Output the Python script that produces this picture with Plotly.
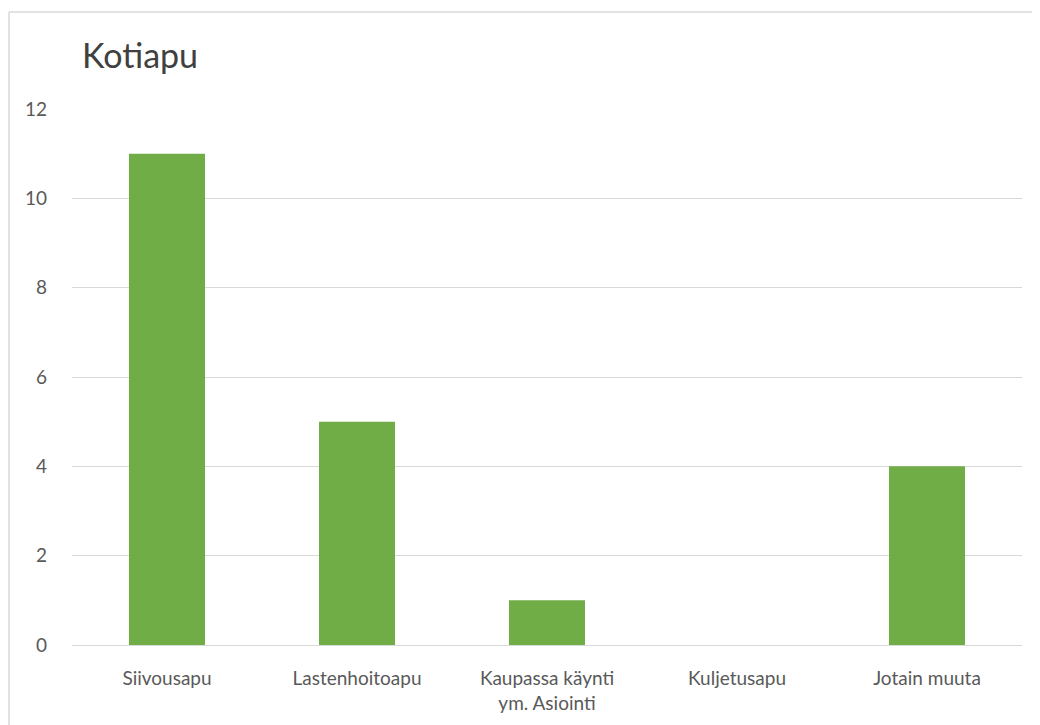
import plotly.graph_objects as go

categories = ["Siivousapu", "Lastenhoitoapu", "Kaupassa käynti<br>ym. Asiointi", "Kuljetusapu", "Jotain muuta"]
values = [11, 5, 1, 0, 4]
y_ticks = [0, 2, 4, 6, 8, 10, 12]
title_text = "Kotiapu"

# page body adds an 8px offset; compensate in margins and size
OFF = 8
W, H = 1040 - OFF, 725 - OFF
L, T = 72 - OFF, 109 - OFF
PW, PH = 950, 536

fig = go.Figure(go.Bar(x=categories, y=values, marker_color="#70AD47", marker_line_width=0))

bx0 = (9 - 72) / PW
by1 = (645 - 12) / PH
border = dict(color="#D9D9D9", width=1.5)

fig.update_layout(
    width=W, height=H,
    margin=dict(l=L, r=W - L - PW, t=T, b=H - T - PH),
    paper_bgcolor="white", plot_bgcolor="white",
    bargap=0.6,
    showlegend=False,
    font=dict(family="Lato", color="#595959", size=19),
    title=dict(text=title_text, x=(82 - OFF) / W, xanchor="left", xref="container",
               y=1 - (56 - OFF) / H, yanchor="middle", yref="container",
               font=dict(family="Lato", size=34, color="#404040")),
    xaxis=dict(showgrid=False, showline=False, ticks="", ticklabelstandoff=20,
               tickfont=dict(size=19)),
    yaxis=dict(range=[0, 12], tickvals=y_ticks, showgrid=True, gridcolor="#D9D9D9",
               gridwidth=1.3, zeroline=True, zerolinecolor="#D9D9D9", zerolinewidth=1.3,
               showline=False, ticks="", ticklabelstandoff=24, tickfont=dict(size=19)),
    shapes=[
        dict(type="line", xref="paper", yref="paper", x0=bx0, x1=1.2, y0=by1, y1=by1,
             line=border, layer="below"),
        dict(type="line", xref="paper", yref="paper", x0=bx0, x1=bx0, y0=-0.5, y1=by1,
             line=border, layer="below"),
    ],
)

fig.write_html("out.html")
